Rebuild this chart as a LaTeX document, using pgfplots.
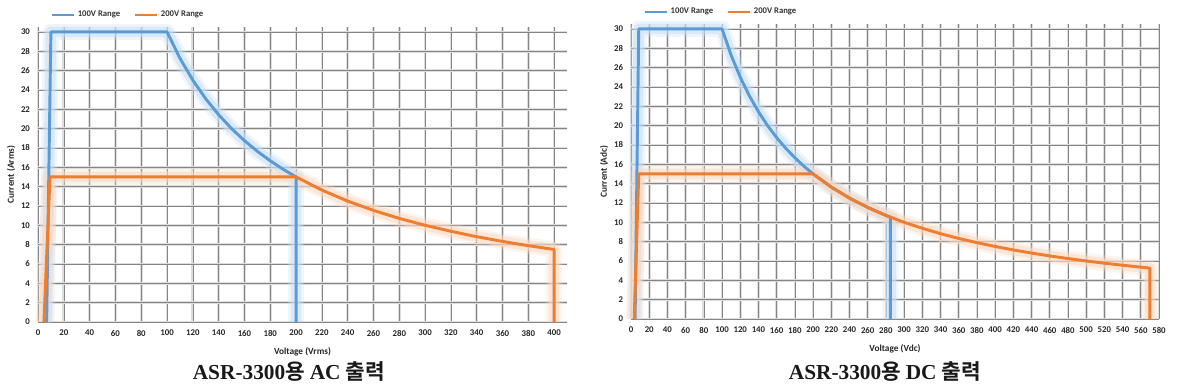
\documentclass[border=0pt]{standalone}
\usepackage{fontspec}
\setmainfont{Carlito}
\newfontfamily\serifttl{Liberation Serif}
\newfontfamily\kr{Noto Sans CJK KR}[BoldFont={Noto Sans CJK KR Bold}]
\usepackage{pgfplots}
\pgfplotsset{compat=1.18}
\definecolor{cblue}{HTML}{5B9BD5}
\definecolor{corange}{HTML}{ED7D31}
\definecolor{gblue}{HTML}{C9DFF3}
\definecolor{gorange}{HTML}{FAD9C2}
\pgfplotsset{
  myaxis/.style={
    scale only axis,
    ymin=0, ymax=30.5,
    ytick={0,2,...,30},
    grid=major,
    major grid style={draw=black!48, line width=0.45pt, preaction={draw=black!13, line width=2pt}},
    axis line style={draw=none},
    tick style={draw=none},
    /pgf/number format/assume math mode=true,
    ticklabel style={font=\bfseries\fontsize{6.6}{7.5}\selectfont, text=black!85},
    xticklabel style={yshift=-2.5pt},
    yticklabel style={xshift=-2.5pt},
    label style={font=\bfseries\fontsize{7}{8}\selectfont, text=black!85},
    xlabel style={yshift=-2pt},
    ylabel style={yshift=-2.5pt},
    legend columns=2,
    legend style={draw=none, fill=none, anchor=west, yshift=9pt,
      font=\bfseries\fontsize{6.5}{7.5}\selectfont, text=black!80,
      /tikz/every even column/.append style={column sep=8pt},
      inner sep=0pt},
    legend image code/.code={\draw[#1, line width=2pt] (0pt,0pt) -- (16.5pt,0pt);},
    clip=false,
  },
  glowb/.style={forget plot, gblue, line width=8pt, opacity=0.55, line join=round, preaction={draw=gblue, line width=12pt, opacity=0.3}},
  glowo/.style={forget plot, gorange, line width=8pt, opacity=0.55, line join=round, preaction={draw=gorange, line width=12pt, opacity=0.3}},
  mainb/.style={cblue, line width=2.2pt, line join=round},
  maino/.style={corange, line width=2.2pt, line join=round},
}
\begin{document}
\begin{tikzpicture}
\path[use as bounding box] (0,0) rectangle (889.5pt,292.5pt);
% Left: AC
\begin{axis}[myaxis,
  at={(28.5pt,51pt)}, anchor=south west,
  width=396.75pt, height=221.25pt,
  xmin=0, xmax=410, xtick={0,20,...,400},
  xlabel={Voltage (Vrms)}, ylabel={Current (Arms)},
  legend style={at={(0.023,1)}},
]
\addplot[glowb] coordinates {(6.7,0) (10,30) (100,30) (110,27.27) (120,25) (130,23.08) (140,21.43) (150,20) (160,18.75) (170,17.65) (180,16.67) (190,15.79) (200,15) (200,0)};
\addplot[glowo] coordinates {(4.6,0) (9.3,15) (200,15) (220,13.64) (240,12.5) (260,11.54) (280,10.71) (300,10) (320,9.38) (340,8.82) (360,8.33) (380,7.89) (400,7.5) (400,0)};
\addplot[mainb] coordinates {(6.7,0) (10,30) (100,30) (110,27.27) (120,25) (130,23.08) (140,21.43) (150,20) (160,18.75) (170,17.65) (180,16.67) (190,15.79) (200,15) (200,0)};
\addplot[maino] coordinates {(4.6,0) (9.3,15) (200,15) (220,13.64) (240,12.5) (260,11.54) (280,10.71) (300,10) (320,9.38) (340,8.82) (360,8.33) (380,7.89) (400,7.5) (400,0)};
\legend{100V Range, 200V Range}
\end{axis}
% Right: DC
\begin{axis}[myaxis,
  at={(473.25pt,53.25pt)}, anchor=south west,
  width=396pt, height=221.25pt,
  xmin=0, xmax=580, xtick={0,20,...,580},
  xlabel={Voltage (Vdc)}, ylabel={Current (Adc)},
  legend style={at={(0.023,1)}},
]
\addplot[glowb] coordinates {(4.5,0) (8.5,30) (100,30) (110,27.27) (120,25) (130,23.08) (140,21.43) (150,20) (160,18.75) (170,17.65) (180,16.67) (190,15.79) (200,15) (220,13.64) (240,12.5) (260,11.54) (280,10.71) (285,10.53) (285,0)};
\addplot[glowo] coordinates {(3.5,0) (8.5,15) (200,15) (220,13.64) (240,12.5) (260,11.54) (280,10.71) (300,10) (320,9.38) (340,8.82) (360,8.33) (380,7.89) (400,7.5) (420,7.14) (440,6.82) (460,6.52) (480,6.25) (500,6.0) (520,5.77) (540,5.56) (560,5.36) (570,5.26) (570,0)};
\addplot[mainb] coordinates {(4.5,0) (8.5,30) (100,30) (110,27.27) (120,25) (130,23.08) (140,21.43) (150,20) (160,18.75) (170,17.65) (180,16.67) (190,15.79) (200,15) (220,13.64) (240,12.5) (260,11.54) (280,10.71) (285,10.53) (285,0)};
\addplot[maino] coordinates {(3.5,0) (8.5,15) (200,15) (220,13.64) (240,12.5) (260,11.54) (280,10.71) (300,10) (320,9.38) (340,8.82) (360,8.33) (380,7.89) (400,7.5) (420,7.14) (440,6.82) (460,6.52) (480,6.25) (500,6.0) (520,5.77) (540,5.56) (560,5.36) (570,5.26) (570,0)};
\legend{100V Range, 200V Range}
\end{axis}
\node[anchor=base, font=\fontsize{16}{19}\selectfont\bfseries, text=black!90] at (216.75pt,8pt) {\serifttl ASR-3300\kr 용 \serifttl AC \kr 출력};
\node[anchor=base, font=\fontsize{16}{19}\selectfont\bfseries, text=black!90] at (663.75pt,8pt) {\serifttl ASR-3300\kr 용 \serifttl DC \kr 출력};
\end{tikzpicture}
\end{document}
